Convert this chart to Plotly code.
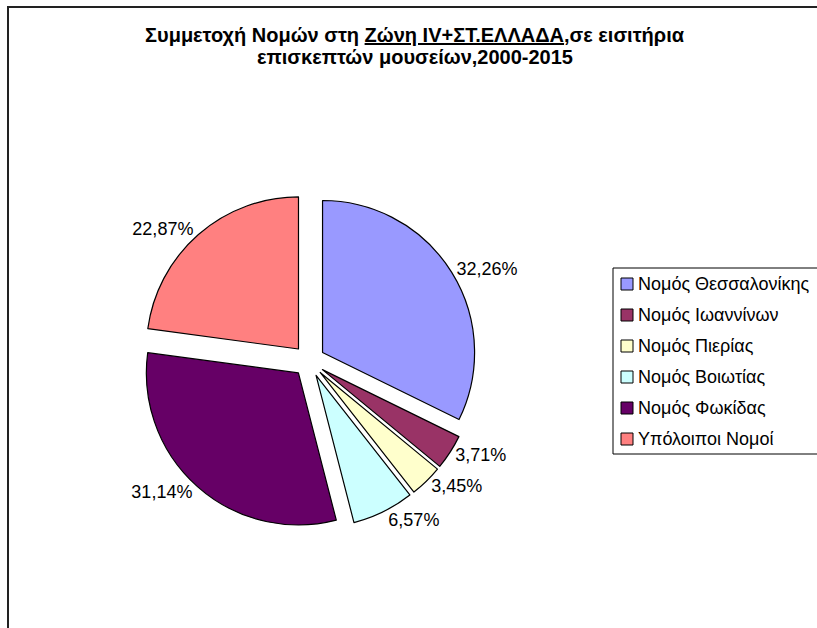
import plotly.graph_objects as go

labels = ["Νομός Θεσσαλονίκης", "Νομός Ιωαννίνων", "Νομός Πιερίας",
          "Νομός Βοιωτίας", "Νομός Φωκίδας", "Υπόλοιποι Νομοί"]
values = [32.26, 3.71, 3.45, 6.57, 31.14, 22.87]
colors = ["#9999FF", "#993366", "#FFFFCC", "#CCFFFF", "#660066", "#FF8080"]
title_lines = ["Συμμετοχή Νομών στη <u>Ζώνη IV+ΣΤ.ΕΛΛΑΔΑ</u>,σε εισιτήρια",
               "επισκεπτών μουσείων,2000-2015"]

W, H = 817, 628
FONT = "Arial, Liberation Sans, sans-serif"

fig = go.Figure()
fig.add_trace(go.Pie(
    labels=labels, values=values, sort=False, direction="clockwise", rotation=0,
    marker=dict(colors=colors, line=dict(color="black", width=1.2)),
    pull=[0.105] * len(values),
    textposition="outside", texttemplate="%{percent:.2%}",
    textfont=dict(family=FONT, size=18, color="black"),
    domain=dict(x=[141 / W, 477 / W], y=[(H - 361 - 168) / H, (H - 361 + 168) / H]),
    showlegend=False, hoverinfo="label+percent",
))

shapes = [
    dict(type="rect", xref="paper", yref="paper", x0=8 / W, x1=860 / W, y0=-40 / H, y1=1 - 7 / H,
         line=dict(color="#222", width=2), fillcolor="rgba(0,0,0,0)"),
    dict(type="rect", xref="paper", yref="paper", x0=613 / W, x1=860 / W,
         y0=1 - 454 / H, y1=1 - 268 / H, line=dict(color="black", width=1), fillcolor="white"),
]
annotations = []
for j, line in enumerate(title_lines):
    annotations.append(dict(text="<b>" + line + "</b>", xref="paper", yref="paper",
                            x=415 / W, y=1 - (35 + 22.5 * j) / H, xanchor="center", yanchor="middle",
                            showarrow=False, font=dict(family=FONT, size=20, color="black")))
for i, (lab, col) in enumerate(zip(labels, colors)):
    cy = 284 + i * 31
    shapes.append(dict(type="rect", xref="paper", yref="paper", x0=621 / W, x1=633 / W,
                       y0=1 - (cy + 6) / H, y1=1 - (cy - 6) / H,
                       line=dict(color="black", width=1), fillcolor=col))
    annotations.append(dict(text=lab, xref="paper", yref="paper", x=636 / W, y=1 - cy / H,
                            xanchor="left", yanchor="middle", showarrow=False,
                            font=dict(family=FONT, size=18, color="black")))

fig.update_layout(
    width=W, height=H, margin=dict(l=0, r=0, t=0, b=0),
    paper_bgcolor="white", plot_bgcolor="white",
    separators=",.", shapes=shapes, annotations=annotations,
    font=dict(family=FONT, color="black"),
)
fig.write_html("out.html", config=dict(displayModeBar=False),
               post_script="document.body.style.margin='0px';document.body.style.overflow='hidden';")
